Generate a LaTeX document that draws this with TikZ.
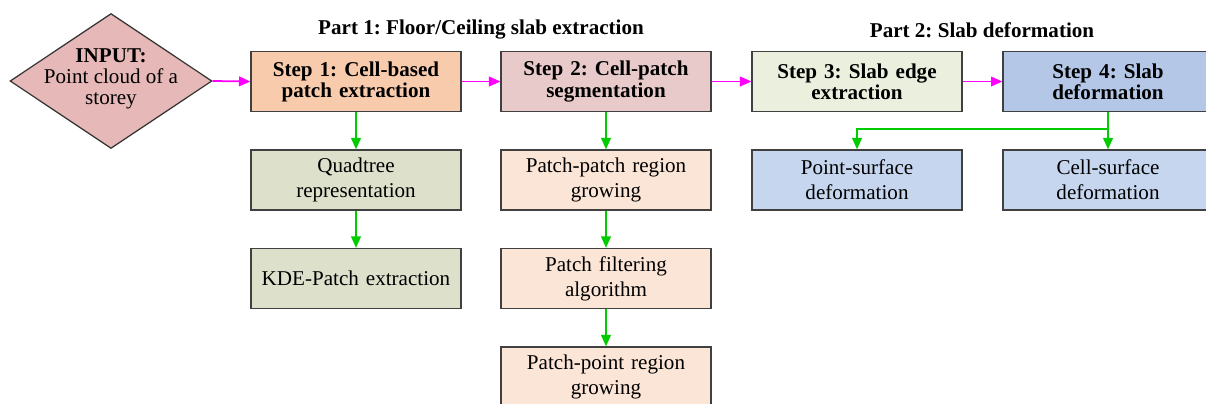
\documentclass[tikz,border=0pt]{standalone}
\usepackage{fontspec}
\setmainfont{Liberation Serif}
\usetikzlibrary{shapes.geometric,arrows.meta}
\frenchspacing
\definecolor{inputcol}{RGB}{230,184,183}
\definecolor{stepone}{RGB}{248,203,173}
\definecolor{steptwo}{RGB}{232,202,202}
\definecolor{stepthree}{RGB}{235,240,222}
\definecolor{stepfour}{RGB}{180,199,231}
\definecolor{subone}{RGB}{221,224,203}
\definecolor{subtwo}{RGB}{251,229,214}
\definecolor{subfour}{RGB}{197,214,238}
\definecolor{linkmag}{RGB}{255,0,255}
\definecolor{linkgreen}{RGB}{0,204,0}
\begin{document}
\begin{tikzpicture}[x=0.02cm,y=-0.02cm,
  box/.style={draw=black!75,line width=0.7pt,minimum width=4.2cm,minimum height=1.2cm,
    text width=3.9cm,align=center,inner sep=0pt,font=\fontsize{12}{14.2}\selectfont},
  stepbox/.style={box,font=\fontsize{12}{12}\selectfont\bfseries},
  magarrow/.style={draw=linkmag,line width=1pt,-{Triangle[length=6.5pt,width=5.5pt]}},
  greenarrow/.style={draw=linkgreen,line width=1pt,-{Triangle[length=6.5pt,width=5.5pt]}}]
\useasboundingbox (0,0) rectangle (1206,403);
% titles
\node[font=\fontsize{12}{14}\selectfont\bfseries] (part1) at (481,30) {Part 1: Floor/Ceiling slab extraction};
\node[font=\fontsize{12}{14}\selectfont\bfseries] (part2) at (982,30) {Part 2: Slab deformation};
% input
\node[diamond,draw=black!80,line width=0.7pt,fill=inputcol,minimum width=4.04cm,minimum height=2.7cm,inner sep=0pt] (input) at (111,81) {};
\node[align=center,font=\fontsize{12}{12}\selectfont] (inputtext) at (111,79) {\textbf{INPUT:}\\Point cloud of a\\storey};
% main steps
\node[stepbox,fill=stepone] (step1) at (356,81.5) {Step 1: Cell-based\\patch extraction};
\node[stepbox,fill=steptwo] (step2) at (606,81.5) {Step 2: Cell-patch\\segmentation};
\node[stepbox,fill=stepthree] (step3) at (857,81.5) {Step 3: Slab edge\\extraction};
\node[stepbox,fill=stepfour] (step4) at (1108,81.5) {Step 4: Slab\\deformation};
% sub steps
\node[box,fill=subone] (quad) at (356,180) {Quadtree\\representation};
\node[box,fill=subone] (kde) at (356,278.5) {KDE-Patch extraction};
\node[box,fill=subtwo] (ppgrow) at (606,180) {Patch-patch region\\growing};
\node[box,fill=subtwo] (filter) at (606,278.5) {Patch filtering\\algorithm};
\node[box,fill=subtwo] (ptgrow) at (606,377) {Patch-point region\\growing};
\node[box,fill=subfour] (pointsurf) at (857,180) {Point-surface\\deformation};
\node[box,fill=subfour] (cellsurf) at (1108,180) {Cell-surface\\deformation};
% links
\draw[magarrow] (input.east) -- (step1.west);
\draw[magarrow] (step1) -- (step2);
\draw[magarrow] (step2) -- (step3);
\draw[magarrow] (step3) -- (step4);
\draw[greenarrow] (step1) -- (quad);
\draw[greenarrow] (quad) -- (kde);
\draw[greenarrow] (step2) -- (ppgrow);
\draw[greenarrow] (ppgrow) -- (filter);
\draw[greenarrow] (filter) -- (ptgrow);
\coordinate (split) at (1108,129);
\draw[greenarrow] (step4) -- (cellsurf);
\draw[greenarrow] (split) -| (pointsurf.north);
\end{tikzpicture}
\end{document}
